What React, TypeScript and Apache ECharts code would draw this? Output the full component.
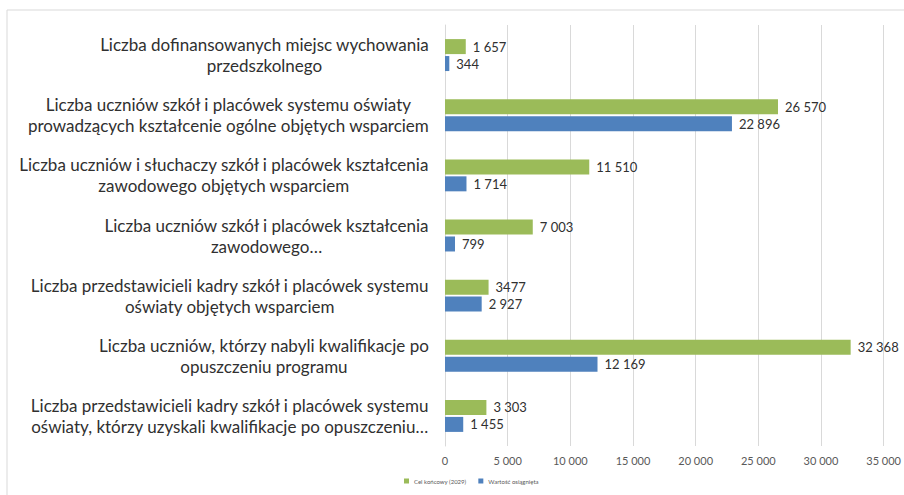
import React, { useEffect, useRef } from "react";
import * as echarts from "echarts";

const categories = [
  "Liczba dofinansowanych miejsc wychowania\nprzedszkolnego",
  "Liczba uczniów szkół i placówek systemu oświaty\nprowadzących kształcenie ogólne objętych wsparciem",
  "Liczba uczniów i słuchaczy szkół i placówek kształcenia\nzawodowego objętych wsparciem",
  "Liczba uczniów szkół i placówek kształcenia\nzawodowego…",
  "Liczba przedstawicieli kadry szkół i placówek systemu\noświaty objętych wsparciem",
  "Liczba uczniów, którzy nabyli kwalifikacje po\nopuszczeniu programu",
  "Liczba przedstawicieli kadry szkół i placówek systemu\noświaty, którzy uzyskali kwalifikacje po opuszczeniu…",
];

const seriesNames = ["Cel końcowy (2029)", "Wartość osiągnięta"];
const targetValues = [1657, 26570, 11510, 7003, 3477, 32368, 3303];
const targetLabels = ["1 657", "26 570", "11 510", "7 003", "3477", "32 368", "3 303"];
const achievedValues = [344, 22896, 1714, 799, 2927, 12169, 1455];
const achievedLabels = ["344", "22 896", "1 714", "799", "2 927", "12 169", "1 455"];

const xTicks = ["0", "5 000", "10 000", "15 000", "20 000", "25 000", "30 000", "35 000"];

const FONT = "Lato, 'Noto Sans', sans-serif";
const W = 904;
const H = 495;
const GRID_LEFT = 445;
const GRID_BOTTOM = 49;
const X_LABEL_MARGIN = 9;

export default function App() {
  const ref = useRef<HTMLDivElement>(null);
  useEffect(() => {
    const chart = echarts.init(ref.current!, null, { renderer: "svg" });
    chart.setOption({
      animation: false,
      textStyle: { fontFamily: FONT },
      graphic: [
        {
          type: "rect",
          shape: { x: 7, y: 10, width: 1000, height: 600 },
          style: { fill: "none", stroke: "#d9d9d9", lineWidth: 1 },
          silent: true,
        },
        {
          type: "text",
          x: GRID_LEFT,
          y: H - GRID_BOTTOM + X_LABEL_MARGIN,
          silent: true,
          z: 100,
          style: {
            text: xTicks[0],
            fill: "#595959",
            font: `11px ${FONT}`,
            align: "center",
            verticalAlign: "top",
          },
        },
      ],
      legend: {
        bottom: 6,
        left: 399,
        itemWidth: 5,
        itemHeight: 5,
        itemGap: 12,
        icon: "rect",
        textStyle: { fontSize: 6, color: "#595959", fontFamily: FONT },
        data: seriesNames,
      },
      grid: { left: GRID_LEFT, right: 18, top: 25, bottom: GRID_BOTTOM, containLabel: false },
      xAxis: {
        type: "value",
        min: 0,
        max: 35000,
        interval: 5000,
        axisLine: { show: false },
        axisTick: { show: false },
        splitLine: { lineStyle: { color: "#d9d9d9", width: 1 } },
        axisLabel: {
          color: "#595959",
          fontSize: 11,
          margin: X_LABEL_MARGIN,
          showMinLabel: false,
          showMaxLabel: true,
          fontFamily: FONT,
          formatter: (v: number) => (v === 0 ? "" : xTicks[Math.round(v / 5000)] ?? String(v)),
        },
      },
      yAxis: {
        type: "category",
        inverse: true,
        data: categories,
        axisLine: { show: true, lineStyle: { color: "#d9d9d9" } },
        axisTick: { show: false },
        axisLabel: {
          margin: 16,
          color: "#303030",
          formatter: (v: string) =>
            v
              .split("\n")
              .map((l) => `{c|${l}}`)
              .join("\n"),
          rich: {
            c: { align: "center", fontSize: 17, lineHeight: 21, color: "#303030", fontFamily: FONT },
          },
        },
      },
      series: [
        {
          name: seriesNames[0],
          type: "bar",
          data: targetValues,
          barWidth: 15,
          barGap: "13%",
          itemStyle: { color: "#9bbb59" },
          label: {
            show: true,
            position: "right",
            distance: 7,
            fontSize: 13,
            color: "#303030",
            fontFamily: FONT,
            formatter: (p: any) => targetLabels[p.dataIndex],
          },
        },
        {
          name: seriesNames[1],
          type: "bar",
          data: achievedValues,
          barWidth: 15,
          itemStyle: { color: "#4f81bd" },
          label: {
            show: true,
            position: "right",
            distance: 7,
            fontSize: 13,
            color: "#303030",
            fontFamily: FONT,
            formatter: (p: any) => achievedLabels[p.dataIndex],
          },
        },
      ],
    });
    return () => chart.dispose();
  }, []);
  return <div ref={ref} style={{ width: W, height: H, position: "absolute", left: 0, top: 0 }} />;
}
